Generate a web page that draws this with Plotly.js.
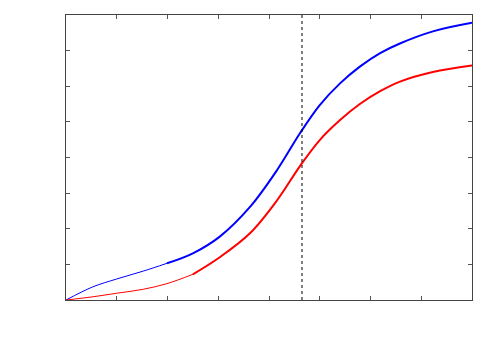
<!DOCTYPE html>
<html>
<head>
<meta charset="utf-8">
<script src="https://cdn.plot.ly/plotly-3.0.1.min.js"></script>
<style>html,body{margin:0;padding:0;background:#fff}#plot{width:500px;height:350px}</style>
</head>
<body>
<div id="plot"></div>
<script>
// curve samples (axis units 0..8)
var sampleX = [0, 0.53, 1.0, 1.52, 1.99, 2.5, 3.03, 3.63, 4.16, 4.61, 5.0, 5.4, 5.79, 6.19, 6.58, 7.23, 8.0];
var blueY = [0, 0.37, 0.59, 0.81, 1.03, 1.31, 1.78, 2.62, 3.65, 4.68, 5.47, 6.08, 6.55, 6.93, 7.20, 7.54, 7.78];
var redY  = [0, 0.09, 0.19, 0.30, 0.46, 0.72, 1.20, 1.88, 2.80, 3.76, 4.49, 5.05, 5.50, 5.86, 6.13, 6.40, 6.58];
var markX = 4.65;
var blueSplit = 1.99;
var redSplit = 2.5;

// each curve: thin start, thicker rest
function seg(xs, ys, split, color) {
  var i = xs.indexOf(split);
  return [
    {x: xs.slice(0, i + 1), y: ys.slice(0, i + 1), mode: 'lines',
     line: {color: color, width: 1, shape: 'spline'}, hoverinfo: 'skip'},
    {x: xs.slice(i), y: ys.slice(i), mode: 'lines',
     line: {color: color, width: 2, shape: 'spline'}, hoverinfo: 'skip'}
  ];
}

var data = seg(sampleX, blueY, blueSplit, '#0000ff').concat(seg(sampleX, redY, redSplit, '#ff0000'));
data.push({
  x: [markX, markX], y: [0, 8], mode: 'lines',
  line: {color: '#000', width: 1, dash: '3px,3px'}, hoverinfo: 'skip'
});

var ax = {
  range: [0, 8], dtick: 1, ticks: 'inside', ticklen: 4, tickcolor: '#555',
  showticklabels: false, showgrid: false, zeroline: false,
  showline: true, linecolor: '#444', linewidth: 1, mirror: 'ticks'
};

var layout = {
  width: 500, height: 350,
  margin: {l: 66, r: 28, t: 15, b: 50},
  showlegend: false,
  paper_bgcolor: '#fff', plot_bgcolor: '#fff',
  xaxis: ax,
  yaxis: Object.assign({}, ax)
};

Plotly.newPlot('plot', data, layout, {displayModeBar: false, staticPlot: true});
</script>
</body>
</html>
